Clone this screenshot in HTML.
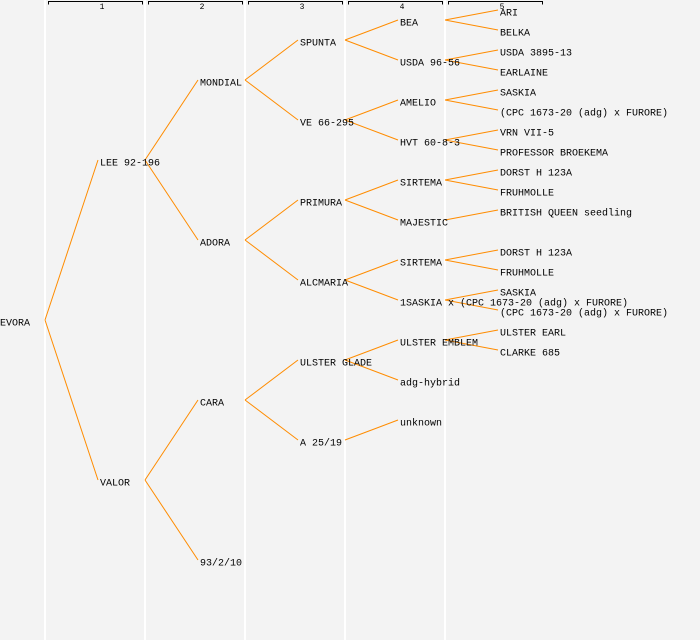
<!DOCTYPE html>
<html><head><meta charset="utf-8"><style>
html,body{margin:0;padding:0;background:#f3f3f3;}
svg{display:block;}
text{font-family:"Liberation Mono",monospace;font-size:10px;fill:#000;}
</style></head><body>
<svg width="700" height="640" viewBox="0 0 700 640" xmlns="http://www.w3.org/2000/svg">
<rect width="700" height="640" fill="#f3f3f3"/>
<g stroke="#ffffff" stroke-width="2">
<line x1="45" y1="0" x2="45" y2="640"/><line x1="145" y1="0" x2="145" y2="640"/>
<line x1="245" y1="0" x2="245" y2="640"/><line x1="345" y1="0" x2="345" y2="640"/>
<line x1="445" y1="0" x2="445" y2="640"/>
</g>
<g stroke="#000" stroke-width="1" fill="none">
<path d="M48.5 4.5V1.5H142.5V4.5"/><path d="M148.5 4.5V1.5H242.5V4.5"/>
<path d="M248.5 4.5V1.5H342.5V4.5"/><path d="M348.5 4.5V1.5H442.5V4.5"/>
<path d="M448.5 4.5V1.5H542.5V4.5"/>
</g>
<g style="font-size:8px" text-anchor="middle">
<text x="102" y="9" style="font-size:8px">1</text><text x="202" y="9" style="font-size:8px">2</text>
<text x="302" y="9" style="font-size:8px">3</text><text x="402" y="9" style="font-size:8px">4</text>
<text x="502" y="9" style="font-size:8px">5</text>
</g>
<g stroke="#ff8c00" stroke-width="1" fill="none">
<path d="M45 320L98 160M45 320L98 480"/>
<path d="M145 160L198 80M145 160L198 240M145 480L198 400M145 480L198 560"/>
<path d="M245 80L298 40M245 80L298 120M245 240L298 200M245 240L298 280M245 400L298 360M245 400L298 440"/>
<path d="M345 40L398 20M345 40L398 60M345 120L398 100M345 120L398 140M345 200L398 180M345 200L398 220M345 280L398 260M345 280L398 300M345 360L398 340M345 360L398 380M345 440L398 420"/>
<path d="M445 20L498 10M445 20L498 30M445 60L498 50M445 60L498 70M445 100L498 90M445 100L498 110M445 140L498 130M445 140L498 150M445 180L498 170M445 180L498 190M445 220L498 210M445 260L498 250M445 260L498 270M445 300L498 290M445 300L498 310M445 340L498 330M445 340L498 350"/>
</g>
<g dominant-baseline="middle">
<text x="0" y="323">EVORA</text>
<text x="100" y="163">LEE 92-196</text><text x="100" y="483">VALOR</text>
<text x="200" y="83">MONDIAL</text><text x="200" y="243">ADORA</text><text x="200" y="403">CARA</text><text x="200" y="563">93/2/10</text>
<text x="300" y="43">SPUNTA</text><text x="300" y="123">VE 66-295</text><text x="300" y="203">PRIMURA</text><text x="300" y="283">ALCMARIA</text><text x="300" y="363">ULSTER GLADE</text><text x="300" y="443">A 25/19</text>
<text x="400" y="23">BEA</text><text x="400" y="63">USDA 96-56</text><text x="400" y="103">AMELIO</text><text x="400" y="143">HVT 60-8-3</text><text x="400" y="183">SIRTEMA</text><text x="400" y="223">MAJESTIC</text><text x="400" y="263">SIRTEMA</text><text x="400" y="303">1SASKIA x (CPC 1673-20 (adg) x FURORE)</text><text x="400" y="343">ULSTER EMBLEM</text><text x="400" y="383">adg-hybrid</text><text x="400" y="423">unknown</text>
<text x="500" y="13">ARI</text><text x="500" y="33">BELKA</text><text x="500" y="53">USDA 3895-13</text><text x="500" y="73">EARLAINE</text><text x="500" y="93">SASKIA</text><text x="500" y="113">(CPC 1673-20 (adg) x FURORE)</text><text x="500" y="133">VRN VII-5</text><text x="500" y="153">PROFESSOR BROEKEMA</text><text x="500" y="173">DORST H 123A</text><text x="500" y="193">FRUHMOLLE</text><text x="500" y="213">BRITISH QUEEN seedling</text><text x="500" y="253">DORST H 123A</text><text x="500" y="273">FRUHMOLLE</text><text x="500" y="293">SASKIA</text><text x="500" y="313">(CPC 1673-20 (adg) x FURORE)</text><text x="500" y="333">ULSTER EARL</text><text x="500" y="353">CLARKE 685</text>
</g>
</svg>
</body></html>
